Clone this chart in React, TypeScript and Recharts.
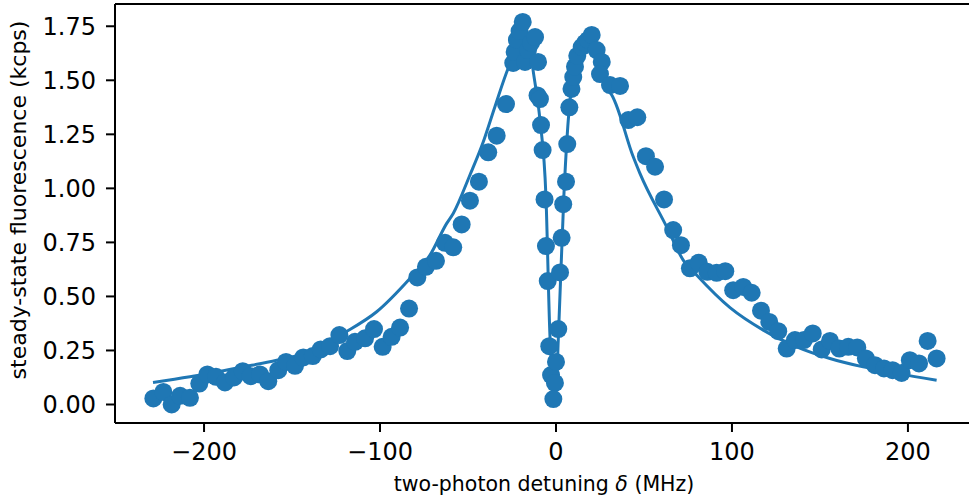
import { ComposedChart, Scatter, Line, XAxis, YAxis, ReferenceLine, Label } from 'recharts';

// measured points, two-photon detuning (MHz)
const DETUNING = [
  -228.8, -223.1, -218.4, -213.6, -208.0, -202.7, -198.1, -193.2, -188.1, -183.0,
  -178.0, -173.5, -168.2, -163.5, -157.8, -153.4, -148.3, -143.6, -138.2, -133.7,
  -128.4, -123.1, -118.6, -114.2, -108.5, -103.4, -98.5, -93.4, -88.6, -83.5,
  -78.8, -73.9, -68.2, -63.1, -58.4, -53.6, -48.9, -43.8, -38.5, -33.7,
  -28.4, -24.3, -23.5, -22.2, -20.7, -18.9, -17.6, -15.9, -14.2, -11.9,
  -10.2, -10.5, -9.1, -8.5, -7.6, -6.5, -5.7, -4.7, -3.8, -2.8,
  -0.6, -1.5, 0.0, 1.3, 2.3, 3.2, 4.1, 5.7, 6.4, 7.6,
  8.8, 9.8, 10.8, 12.1, 14.6, 16.5, 18.2, 20.3, 23.1, 26.0,
  25.0, 30.7, 36.4, 41.1, 46.2, 51.1, 56.3, 61.4, 66.6, 71.0,
  76.1, 81.1, 86.0, 91.3, 96.2, 100.7, 106.4, 111.2, 116.5, 121.2,
  126.3, 131.1, 135.8, 140.9, 145.9, 151.0, 155.7, 161.0, 166.1, 171.2,
  176.1, 181.3, 186.4, 191.3, 196.4, 201.1, 206.3, 211.2, 216.3,
];

// steady-state fluorescence (kcps)
const FLUORESCENCE = [
  0.028, 0.058, 0.0, 0.04, 0.031, 0.097, 0.139, 0.128, 0.102, 0.125,
  0.154, 0.131, 0.139, 0.108, 0.159, 0.197, 0.179, 0.218, 0.224, 0.255,
  0.27, 0.321, 0.247, 0.29, 0.306, 0.349, 0.267, 0.313, 0.356, 0.444,
  0.588, 0.637, 0.665, 0.748, 0.727, 0.833, 0.943, 1.031, 1.167, 1.244,
  1.39, 1.58, 1.631, 1.687, 1.728, 1.77, 1.585, 1.64, 1.673, 1.7,
  1.585, 1.43, 1.413, 1.293, 1.177, 0.949, 0.733, 0.571, 0.27, 0.136,
  0.1, 0.025, 0.197, 0.349, 0.611, 0.771, 0.927, 1.031, 1.205, 1.375,
  1.46, 1.515, 1.563, 1.613, 1.654, 1.673, 1.687, 1.71, 1.64, 1.585,
  1.529, 1.478, 1.474, 1.316, 1.329, 1.149, 1.1, 0.949, 0.807, 0.737,
  0.63, 0.656, 0.614, 0.609, 0.617, 0.529, 0.544, 0.517, 0.434, 0.382,
  0.339, 0.259, 0.298, 0.298, 0.329, 0.255, 0.294, 0.259, 0.267, 0.264,
  0.213, 0.182, 0.167, 0.159, 0.146, 0.205, 0.19, 0.294, 0.213,
];

// fitted curve
const FIT_DETUNING = [
  -229, -208, -177.7, -158.7, -139.8, -120.9, -101.9, -83, -71.6, -62.1,
  -58.4, -48.9, -41.3, -34.7, -27.1, -21, -18, -15, -12.9, -9.1,
  -5.7, -3.4, -1.5, 0, 1.3, 4.5, 8, 10, 13, 17,
  21, 25, 28.8, 30.7, 43.9, 47.7, 62.9, 72.3, 79.9, 98.9,
  117.8, 136.8, 155.7, 174.6, 193.6, 216.3,
];
const FIT_FLUORESCENCE = [
  0.102, 0.128, 0.174, 0.205, 0.244, 0.329, 0.429, 0.583, 0.691, 0.838,
  0.884, 1.062, 1.216, 1.378, 1.557, 1.66, 1.7, 1.66, 1.54, 1.316,
  0.961, 0.313, 0.12, 0.06, 0.3, 0.97, 1.409, 1.5, 1.6, 1.66,
  1.66, 1.58, 1.455, 1.443, 1.146, 1.069, 0.822, 0.668, 0.599, 0.448,
  0.344, 0.267, 0.213, 0.174, 0.144, 0.112,
];

const X_TICKS = [-200, -100, 0, 100, 200];
const Y_TICKS = [0, 0.25, 0.5, 0.75, 1.0, 1.25, 1.5, 1.75];
const X_DOMAIN = [-250.6, 234.7];
const Y_DOMAIN = [-0.0856, 1.853];

const BLUE = '#1f77b4';
const FONT = 'DejaVu Sans, sans-serif';

const points = DETUNING.map((x, i) => ({ x, y: FLUORESCENCE[i] }));
const fit = FIT_DETUNING.map((x, i) => ({ x, y: FIT_FLUORESCENCE[i] }));

const fmtX = (v: number) => (v < 0 ? '\u2212' + Math.abs(v) : String(v));
const fmtY = (v: number) => v.toFixed(2);

const Dot = (props: any) => <circle cx={props.cx} cy={props.cy} r={9} fill={BLUE} />;

export default function App() {
  return (
    <div style={{ position: 'absolute', left: 0, top: 0, width: 969, height: 500, background: '#fff' }}>
      <ComposedChart width={969} height={500} margin={{ top: 4, right: 0, bottom: 0, left: 0 }}>
        <XAxis
          dataKey="x"
          type="number"
          domain={X_DOMAIN}
          ticks={X_TICKS}
          interval={0}
          tickFormatter={fmtX}
          height={77}
          tickSize={9}
          tickMargin={11}
          axisLine={{ stroke: '#000', strokeWidth: 2 }}
          tickLine={{ stroke: '#000', strokeWidth: 2 }}
          tick={{ fill: '#000', fontSize: 24, fontFamily: FONT }}
          allowDataOverflow
        >
          <Label
            content={(p: any) => {
              const vb = p.viewBox || { x: 115, y: 423, width: 854 };
              return (
                <text x={vb.x + vb.width / 2 + 2} y={491} textAnchor="middle" fontSize={20.5} fontFamily={FONT} fill="#000">
                  two-photon detuning <tspan fontStyle="italic">δ</tspan> (MHz)
                </text>
              );
            }}
          />
        </XAxis>
        <YAxis
          dataKey="y"
          type="number"
          domain={Y_DOMAIN}
          ticks={Y_TICKS}
          interval={0}
          tickFormatter={fmtY}
          width={115}
          tickSize={9}
          tickMargin={10}
          axisLine={{ stroke: '#000', strokeWidth: 2 }}
          tickLine={{ stroke: '#000', strokeWidth: 2 }}
          tick={{ fill: '#000', fontSize: 24, fontFamily: FONT }}
          allowDataOverflow
        >
          <Label
            content={() => (
              <text x={26} y={200} transform="rotate(-90 26 200)" textAnchor="middle" fontSize={22} fontFamily={FONT} fill="#000">
                steady-state fluorescence (kcps)
              </text>
            )}
          />
        </YAxis>
        <ReferenceLine y={Y_DOMAIN[1]} stroke="#000" strokeWidth={2} />
        <Line
          data={fit}
          dataKey="y"
          type="monotone"
          stroke={BLUE}
          strokeWidth={3}
          dot={false}
          activeDot={false}
          isAnimationActive={false}
        />
        <Scatter data={points} dataKey="y" fill={BLUE} shape={Dot} isAnimationActive={false} />
      </ComposedChart>
    </div>
  );
}
